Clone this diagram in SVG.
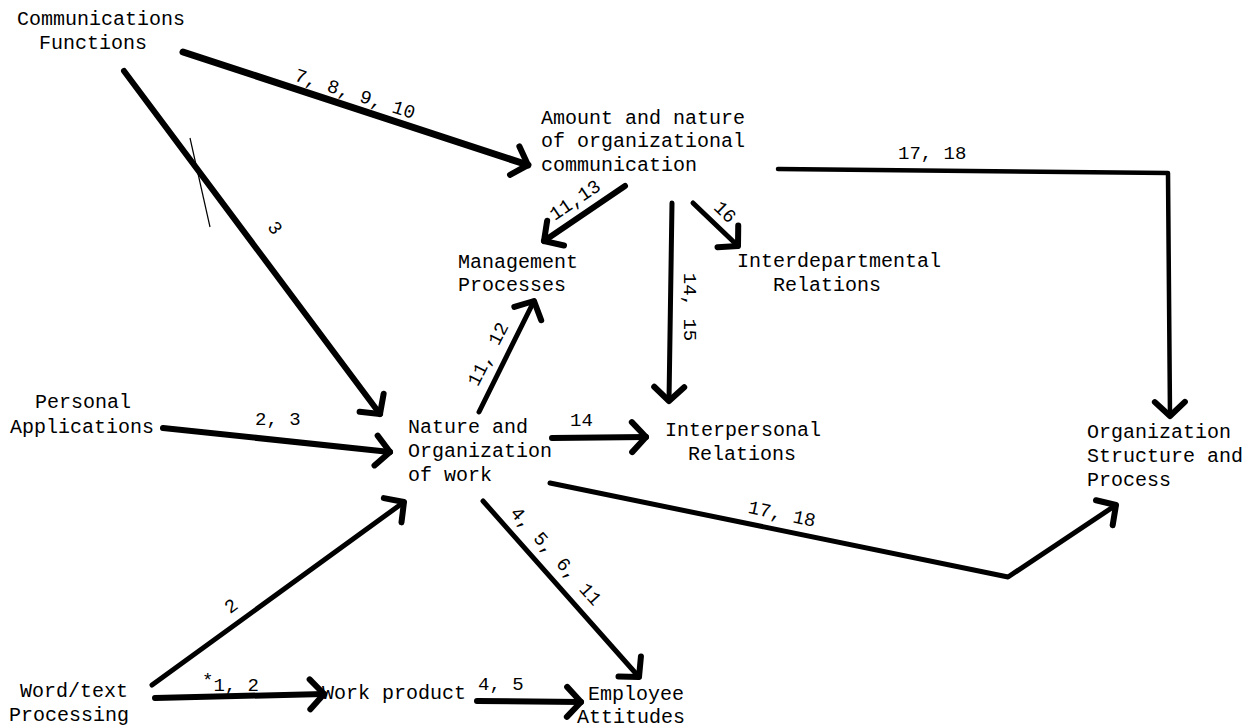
<svg xmlns="http://www.w3.org/2000/svg" width="1254" height="728" viewBox="0 0 1254 728">
<style>
  text { font-family: "Liberation Mono", "Courier New", monospace; font-size: 20px; fill: #000; }
  .lbl { font-size: 19px; }
  .c { fill: none; stroke: #000; stroke-linecap: round; stroke-linejoin: round; marker-end: url(#ah); }
  .w7 { stroke-width: 7; }
  .w6 { stroke-width: 6; }
  .w5 { stroke-width: 5; }
  .w4 { stroke-width: 4.5; }
  .thin { fill: none; stroke: #000; stroke-width: 1.2; }
</style>
<defs>
  <marker id="ah" markerUnits="userSpaceOnUse" viewBox="-30 -30 60 60" refX="0" refY="0" markerWidth="60" markerHeight="60" orient="auto" overflow="visible">
    <path d="M-14,-15 L0,0 L-14,15" fill="none" stroke="#000" stroke-width="6" stroke-linecap="round" stroke-linejoin="round"/>
  </marker>
</defs>
<rect width="1254" height="728" fill="#fff"/>

<g id="n-comm"><text x="17" y="25">Communications</text><text x="39" y="49">Functions</text></g>
<g id="n-amount"><text x="541" y="124">Amount and nature</text><text x="541" y="147">of organizational</text><text x="541" y="171">communication</text></g>
<g id="n-mgmt"><text x="458" y="268">Management</text><text x="458" y="291">Processes</text></g>
<g id="n-interdept"><text x="737" y="267">Interdepartmental</text><text x="773" y="291">Relations</text></g>
<g id="n-personal"><text x="35" y="408">Personal</text><text x="10" y="433">Applications</text></g>
<g id="n-nature"><text x="408" y="433">Nature and</text><text x="408" y="457">Organization</text><text x="408" y="481">of work</text></g>
<g id="n-interpers"><text x="665" y="436">Interpersonal</text><text x="688" y="460">Relations</text></g>
<g id="n-org"><text x="1087" y="438">Organization</text><text x="1087" y="462">Structure and</text><text x="1087" y="486">Process</text></g>
<g id="n-word"><text x="20" y="697">Word/text</text><text x="9" y="721">Processing</text></g>
<g id="n-product"><text x="322" y="699">Work product</text></g>
<g id="n-employee"><text x="588" y="700">Employee</text><text x="577" y="723">Attitudes</text></g>

<g id="connectors">
  <path class="c w7" d="M183,52 L528,165"/>
  <path class="c w6" d="M124,71 L380,414"/>
  <path class="thin" d="M190,138 L210,227"/>
  <path class="c w6" d="M163,428 L390,452"/>
  <path class="c w5" d="M152,685 L404,502"/>
  <path class="c w6" d="M155,698 L324,694"/>
  <path class="c w6" d="M477,701 L581,702"/>
  <path class="c w5" d="M483,501 L639,677"/>
  <path class="c w6" d="M552,438 L646,437"/>
  <path class="c w5" d="M479,412 L534,301"/>
  <path class="c w6" d="M625,186 L544,241"/>
  <path class="c w5" d="M672,203 L669,401"/>
  <path class="c w5" d="M693,203 L738,246"/>
  <path class="c w4" d="M778,169 L1168,173 L1170,416"/>
  <path class="c w5" d="M550,483 L1008,577 L1116,505"/>

  <text class="lbl" text-anchor="middle" transform="translate(355,94) rotate(18)" y="6">7, 8, 9, 10</text>
  <text class="lbl" text-anchor="middle" transform="translate(275,228) rotate(53)" y="6">3</text>
  <text class="lbl" x="255" y="425">2, 3</text>
  <text class="lbl" text-anchor="middle" transform="translate(231,606) rotate(-36)" y="6">2</text>
  <text class="lbl" x="202" y="691"><tspan dy="-5">*</tspan><tspan dy="5">1, 2</tspan></text>
  <text class="lbl" x="478" y="690">4, 5</text>
  <text class="lbl" text-anchor="middle" transform="translate(556,556) rotate(48)" y="6">4, 5, 6, 11</text>
  <text class="lbl" x="570" y="426">14</text>
  <text class="lbl" text-anchor="middle" transform="translate(488,354) rotate(-63)" y="6">11, 12</text>
  <text class="lbl" text-anchor="middle" transform="translate(575,200) rotate(-34)" y="6">11,13</text>
  <text class="lbl" text-anchor="middle" transform="translate(690,307) rotate(90)" y="6">14, 15</text>
  <text class="lbl" text-anchor="middle" transform="translate(725,212) rotate(44)" y="6">16</text>
  <text class="lbl" x="898" y="159">17, 18</text>
  <text class="lbl" text-anchor="middle" transform="translate(782,514) rotate(12)" y="6">17, 18</text>
</g>
</svg>
